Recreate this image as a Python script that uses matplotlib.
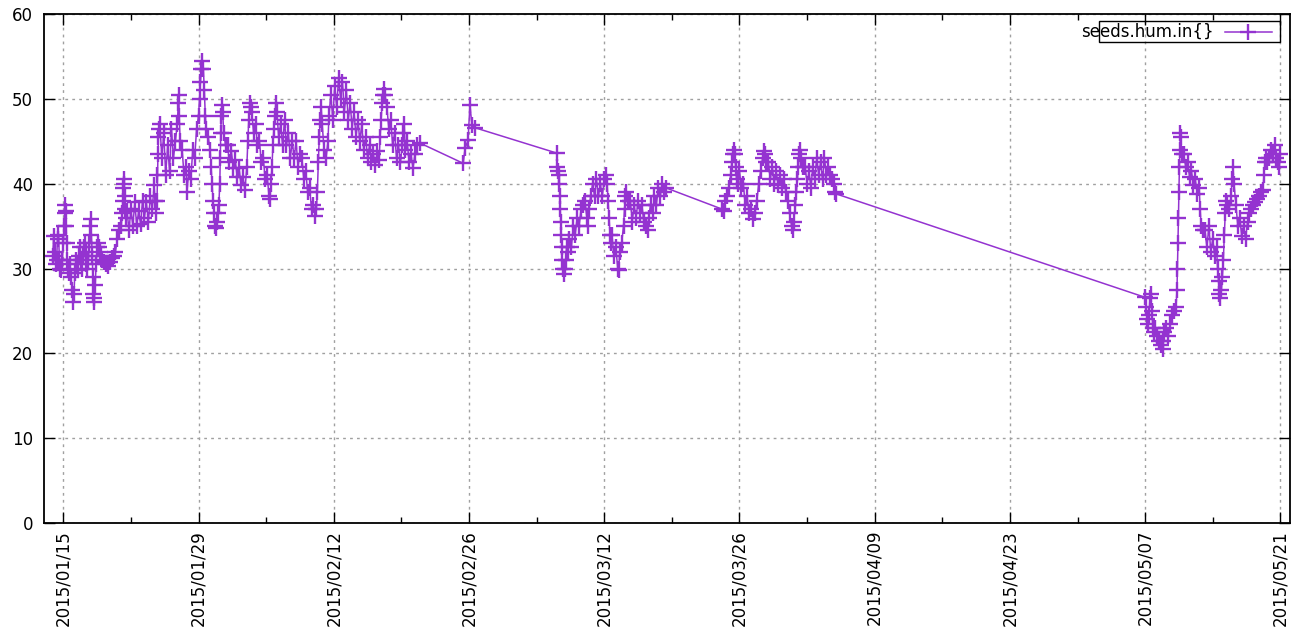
import matplotlib
matplotlib.use('Agg')
import matplotlib.pyplot as plt
import matplotlib.dates as mdates
import pandas as pd
from matplotlib.patches import Rectangle
from matplotlib.lines import Line2D

# ---------------- data (days since 2015-01-15, humidity) ----------------
base_date = '2015-01-15'

seg1_days = [-1.1, -1.0, -0.9, -0.8, -0.7, -0.6, -0.5, -0.4, -0.3, -0.2, -0.1, 0.0, 0.1, 0.15, 0.2, 0.25,
             0.3, 0.35, 0.4, 0.5, 0.6, 0.7, 0.8, 0.9, 1.0, 1.1, 1.2, 1.3, 1.4, 1.5, 1.6, 1.7, 1.8, 1.9,
             2.0, 2.1, 2.2, 2.3, 2.4, 2.5, 2.6, 2.7, 2.8, 2.85, 2.9, 3.0, 3.05, 3.1, 3.15, 3.2, 3.3, 3.4,
             3.5, 3.6, 3.7, 3.8, 3.9, 4.0, 4.2, 4.4, 4.6, 4.8, 5.0, 5.2, 5.4, 5.6, 5.8, 6.0, 6.1, 6.15,
             6.2, 6.25, 6.3, 6.35, 6.4, 6.5, 6.6, 6.8, 7.0, 7.2, 7.4, 7.6, 7.8, 8.0, 8.2, 8.4, 8.6, 8.8,
             9.0, 9.2, 9.4, 9.5, 9.6, 9.7, 9.75, 9.8, 9.85, 9.9, 10.0, 10.2, 10.4, 10.6, 10.8, 11.0,
             11.2, 11.4, 11.6, 11.8, 11.9, 11.95, 12.0, 12.1, 12.3, 12.5, 12.7, 12.8, 13.0, 13.2, 13.4,
             13.6, 13.8, 14.0, 14.1, 14.2, 14.3, 14.4, 14.5, 14.6, 14.7, 14.8, 15.0, 15.2, 15.3, 15.4,
             15.5, 15.6, 15.7, 15.8, 15.9, 16.0, 16.1, 16.2, 16.25, 16.3, 16.35, 16.4, 16.5, 16.6, 16.8,
             17.0, 17.2, 17.4, 17.6, 17.8, 18.0, 18.2, 18.4, 18.6, 18.8, 19.0, 19.1, 19.2, 19.3, 19.4,
             19.5, 19.7, 19.9, 20.1, 20.3, 20.5, 20.7, 20.9, 21.1, 21.3, 21.4, 21.5, 21.6, 21.7, 21.8,
             21.9, 22.0, 22.1, 22.3, 22.5, 22.7, 22.9, 23.1, 23.3, 23.5, 23.7, 23.9, 24.1, 24.3, 24.5,
             24.7, 24.9, 25.1, 25.3, 25.5, 25.7, 25.9, 26.1, 26.2, 26.3, 26.4, 26.5, 26.6, 26.7, 26.8,
             27.0, 27.2, 27.4, 27.5, 27.7, 27.9, 28.1, 28.3, 28.5, 28.7, 28.9, 29.1, 29.3, 29.5, 29.7,
             29.9, 30.1, 30.3, 30.5, 30.7, 30.9, 31.1, 31.3, 31.5, 31.7, 31.9, 32.1, 32.3, 32.5, 32.7,
             32.8, 32.9, 33.0, 33.1, 33.2, 33.3, 33.5, 33.7, 33.9, 34.1, 34.3, 34.5, 34.7, 34.9, 35.1,
             35.2, 35.3, 35.4, 35.6, 35.8, 36.0, 36.2, 36.4, 36.6, 36.9]
seg1_hum = [31.5, 33.8, 32.0, 30.5, 31.0, 33.5, 34.0, 31.0, 30.0, 29.8, 31.0, 33.0, 35.0, 36.5, 37.5, 36.8,
            35.0, 33.0, 31.0, 30.0, 29.5, 30.5, 29.0, 27.5, 26.0, 27.0, 29.5, 31.0, 30.5, 29.8, 31.5, 32.5, 31.0, 30.0,
            31.5, 32.5, 33.0, 32.0, 30.5, 30.0, 31.0, 33.0, 35.0, 35.8, 34.0, 31.5, 29.0, 27.0, 26.0, 26.5, 28.0, 30.5,
            32.5, 33.0, 32.5, 32.0, 31.5, 31.0, 30.8, 30.5, 30.3, 30.8, 31.2, 31.5, 32.0, 33.5, 34.5, 35.0, 36.5, 38.0,
            39.5, 40.5, 40.0, 38.5, 37.0, 36.0, 36.8, 34.5, 37.0, 35.0, 37.8, 35.0, 36.8, 35.2, 38.0, 36.0, 37.8, 35.5,
            38.5, 37.0, 39.8, 38.0, 36.5, 38.0, 41.0, 43.5, 45.5, 46.5, 47.0, 43.0, 46.0, 41.0, 44.5, 41.5,
            46.5, 43.0, 45.0, 47.0, 49.5, 50.5, 48.0, 45.0, 44.0, 41.0, 42.0, 39.0, 41.5, 40.5, 44.0,
            43.0, 46.5, 48.0, 50.0, 52.0, 53.5, 54.5, 53.5, 51.0, 48.0, 46.5, 45.5, 44.0, 42.0, 40.0,
            38.0, 36.5, 35.0, 34.8, 35.5, 36.5, 37.5, 40.0, 43.0, 46.0, 48.0, 49.3, 48.5, 46.0, 44.5,
            44.5, 42.5, 43.8, 41.8, 42.8, 40.8, 41.8, 39.8, 40.8, 39.2, 42.0, 45.0, 47.5, 49.5, 49.0,
            48.5, 46.0, 47.0, 44.5, 45.0, 42.5, 43.0, 40.5, 41.0, 38.5, 38.2, 40.0, 42.0, 44.5, 46.5,
            48.0, 49.5, 48.5, 45.5, 47.0, 44.5, 47.5, 44.5, 46.0, 43.0, 45.0, 43.0, 45.0, 42.0, 43.5,
            43.0, 40.5, 41.5, 39.0, 39.5, 37.0, 37.5, 36.2, 37.0, 39.0, 42.5, 45.5, 47.5, 49.0, 47.0,
            44.0, 43.0, 45.0, 48.0, 50.5, 47.5, 51.5, 49.0, 52.5, 50.0, 52.0, 48.5, 51.0, 47.5, 49.5,
            46.5, 48.5, 45.5, 47.5, 45.0, 47.0, 44.0, 45.5, 43.0, 44.5, 42.5, 43.5, 42.2, 43.8, 42.8,
            45.5, 47.5, 49.5, 50.5, 51.2, 50.5, 49.0, 46.5, 47.5, 44.5, 46.0, 43.0, 44.5, 42.5, 44.5,
            46.0, 47.0, 44.0, 45.0, 42.5, 43.5, 41.8, 43.5, 44.5, 44.8]

gap_days = [41.4, 41.6, 41.9, 42.1, 42.3, 42.6]
gap_hum = [42.4, 44.2, 45.1, 49.3, 46.9, 46.6]

seg2_days = [51.1, 51.15, 51.2, 51.3, 51.35, 51.4, 51.45, 51.5, 51.55, 51.6, 51.65, 51.7, 51.8, 51.9, 52.0,
             52.1, 52.2, 52.4, 52.6, 52.8, 53.0, 53.2, 53.4, 53.6, 53.8, 54.0, 54.2, 54.3, 54.4, 54.6,
             54.8, 55.0, 55.2, 55.4, 55.6, 55.8, 56.0, 56.2, 56.3, 56.4, 56.5, 56.6, 56.7, 56.8, 57.0,
             57.2, 57.4, 57.5, 57.6, 57.8, 58.0, 58.1, 58.2, 58.3, 58.5, 58.7, 58.9, 59.1, 59.3, 59.5,
             59.7, 59.9, 60.1, 60.3, 60.5, 60.6, 60.8, 61.0, 61.2, 61.4, 61.6, 61.8, 62.0, 62.2, 62.4]
seg2_hum = [43.6, 42.0, 41.5, 41.0, 40.0, 38.5, 37.0, 35.5, 34.0, 32.5, 31.0, 30.0, 29.3, 30.0, 31.0,
            32.5, 32.0, 33.5, 32.5, 35.0, 34.0, 36.0, 35.0, 37.0, 37.5, 38.0, 36.0, 35.0, 37.0, 38.5,
            40.0, 38.5, 40.5, 38.5, 40.0, 38.5, 40.5, 41.0, 40.0, 38.0, 36.0, 34.0, 33.0, 34.0, 31.5,
            32.5, 30.0, 29.8, 32.0, 33.0, 35.0, 37.0, 38.5, 39.0, 38.0, 38.0, 35.5, 37.5, 36.0, 38.0,
            36.5, 37.5, 35.5, 35.0, 34.5, 36.0, 37.5, 36.5, 38.5, 37.5, 39.5, 38.5, 40.0, 39.0, 39.5]

seg3_days = [68.2, 68.4, 68.5, 68.7, 68.9, 69.1, 69.2, 69.3, 69.4, 69.5, 69.6, 69.7, 69.8, 70.0, 70.2,
             70.4, 70.6, 70.8, 71.0, 71.2, 71.4, 71.6, 71.8, 72.0, 72.2, 72.4, 72.5, 72.6, 72.8, 73.0,
             73.2, 73.4, 73.6, 73.8, 74.0, 74.2, 74.4, 74.6, 74.8, 75.0, 75.2, 75.4, 75.5, 75.6, 75.8,
             75.9, 76.0, 76.1, 76.2, 76.3, 76.4, 76.6, 76.8, 77.0, 77.2, 77.4, 77.6, 77.8, 78.0, 78.2,
             78.4, 78.6, 78.8, 79.0, 79.2, 79.4, 79.6, 79.8, 79.9, 80.0]
seg3_hum = [37.0, 36.8, 38.0, 38.5, 39.5, 41.0, 42.5, 43.5, 44.0, 43.5, 42.0, 40.5, 40.0, 41.5, 39.5,
            40.0, 37.5, 38.5, 36.5, 37.0, 35.8, 36.5, 38.0, 40.0, 41.5, 43.0, 43.8, 43.5, 42.5, 42.5,
            40.5, 42.0, 40.0, 41.5, 39.8, 41.0, 39.5, 40.5, 39.0, 38.0, 36.5, 35.0, 34.5, 35.5, 37.5,
            39.0, 40.5, 42.0, 43.5, 44.0, 43.0, 42.0, 42.0, 40.0, 41.5, 39.5, 42.0, 40.5, 43.0, 41.0,
            42.5, 40.5, 43.0, 41.0, 42.0, 41.0, 40.5, 40.0, 39.0, 38.8]

seg4_days = [112.0, 112.1, 112.2, 112.3, 112.4, 112.5, 112.6, 112.7, 112.8, 112.9, 113.0, 113.2, 113.4,
             113.6, 113.8, 113.9, 114.0, 114.2, 114.4, 114.6, 114.8, 115.0, 115.2, 115.3, 115.35, 115.4,
             115.45, 115.5, 115.55, 115.6, 115.65, 115.7, 115.8, 116.0, 116.2, 116.4, 116.6, 116.8, 117.0,
             117.2, 117.4, 117.6, 117.7, 117.8, 118.0, 118.2, 118.4, 118.6, 118.8, 119.0, 119.2, 119.4,
             119.5, 119.6, 119.7, 119.8, 119.9, 120.0, 120.1, 120.2, 120.3, 120.4, 120.5, 120.7, 120.9,
             121.0, 121.1, 121.2, 121.4, 121.6, 121.8, 122.0, 122.2, 122.4, 122.6, 122.8, 123.0, 123.2,
             123.4, 123.6, 123.8, 124.0, 124.2, 124.3, 124.4, 124.5, 124.6, 124.8, 125.0, 125.2, 125.4,
             125.6, 125.8, 125.9, 126.0]
seg4_hum = [26.6, 25.5, 24.0, 23.5, 24.5, 26.5, 27.0, 25.0, 23.0, 22.5, 23.0, 22.0, 21.5,
            21.0, 20.5, 21.5, 22.5, 23.0, 22.0, 23.5, 24.5, 25.0, 25.5, 27.5, 30.0, 33.0,
            36.0, 39.0, 42.0, 44.0, 46.0, 45.5, 43.5, 43.5, 42.0, 42.5, 40.8, 41.5, 39.8,
            40.5, 38.8, 39.5, 37.0, 35.0, 34.5, 34.5, 32.5, 35.0, 32.0, 33.5, 31.5, 32.5,
            30.0, 28.5, 27.0, 26.5, 27.5, 29.0, 31.0, 34.0, 36.5, 38.0, 37.5, 37.0, 38.5,
            40.5, 42.0, 40.0, 37.5, 35.0, 36.0, 33.8, 35.0, 33.5, 35.5, 36.5, 37.0, 37.5,
            37.8, 38.2, 38.5, 39.0, 39.3, 41.0, 42.5, 43.0, 42.5, 43.0, 44.0, 43.5, 44.5,
            43.0, 42.5, 42.0, 43.5]

x_tick_labels = ['2015/01/15', '2015/01/29', '2015/02/12', '2015/02/26', '2015/03/12',
                 '2015/03/26', '2015/04/09', '2015/04/23', '2015/05/07', '2015/05/21']
y_ticks = [0, 10, 20, 30, 40, 50, 60]
series_label = 'seeds.hum.in{}'

# ---------------- build ----------------
W, H = 1293, 635
base = pd.Timestamp(base_date)
days = seg1_days + gap_days + seg2_days + seg3_days + seg4_days
hum = seg1_hum + gap_hum + seg2_hum + seg3_hum + seg4_hum
times = base + pd.to_timedelta(days, unit='D')

plt.rcParams['font.family'] = ['DejaVu Sans']
fig = plt.figure(figsize=(W / 100, H / 100), dpi=100)
ax = fig.add_axes([44 / W, 1 - 523 / H, (1290 - 44) / W, (523 - 14) / H])

color = '#9433d0'
ax.plot(times, hum, color=color, lw=1.1, marker='+', ms=11, mew=1.7, zorder=3)

ax.set_ylim(0, 60)
ax.set_xlim(base - pd.Timedelta(days=2), base + pd.Timedelta(days=127))

major = pd.to_datetime(x_tick_labels, format='%Y/%m/%d')
major_num = mdates.date2num(major)
minor_num = [m + 7 for m in major_num[:-1]]
ax.set_xticks(major_num)
ax.set_xticklabels(x_tick_labels, rotation=90, fontsize=12)
ax.set_xticks(minor_num, minor=True)
ax.set_yticks(y_ticks)
ax.set_yticklabels([str(v) for v in y_ticks], fontsize=12)

ax.tick_params(which='major', direction='in', length=8, width=1, top=True, right=True, colors='black')
ax.tick_params(which='minor', direction='in', length=4, width=1, top=True, right=False)
ax.tick_params(axis='x', which='major', pad=5)
ax.tick_params(axis='y', which='major', pad=8)

ax.grid(True, which='major', color='#a0a0a0', linestyle=(0, (2, 3)), lw=1.0, zorder=0)
for s in ax.spines.values():
    s.set_linewidth(1.3)
    s.set_color('black')

# legend drawn like gnuplot key
tf = fig.transFigure
fig.patches.append(Rectangle((1099 / W, 1 - 42 / H), (1280 - 1099) / W, 21 / H, transform=tf,
                             fill=False, edgecolor='black', lw=1.0, zorder=5))
fig.text(1214 / W, 1 - 31.5 / H, series_label, ha='right', va='center', fontsize=12, transform=tf)
fig.lines.append(Line2D([1225 / W, 1272 / W], [1 - 32 / H] * 2, transform=tf, color=color, lw=1.1))
fig.lines.append(Line2D([1248 / W], [1 - 32 / H], transform=tf, color=color, marker='+', ms=11, mew=1.7))

fig.savefig('out.png', dpi=100)
